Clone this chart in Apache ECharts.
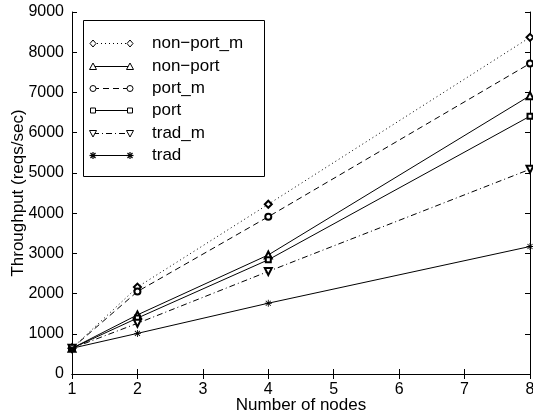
<!DOCTYPE html>
<html>
<head>
<meta charset="utf-8">
<script src="https://cdn.jsdelivr.net/npm/echarts@6/dist/echarts.min.js"></script>
<style>html,body{margin:0;padding:0;background:#fff;}#c{width:533px;height:419px;}</style>
</head>
<body>
<div id="c"></div>
<script>
// ---- data ----
const xNodes = [1, 2, 4, 8];
const seriesNames = ['non\u2212port_m', 'non\u2212port', 'port_m', 'port', 'trad_m', 'trad'];
const nonPortM = [640, 2160, 4220, 8370];
const nonPort  = [640, 1470, 2960, 6920];
const portM    = [640, 2050, 3910, 7720];
const port     = [640, 1390, 2840, 6410];
const tradM    = [640, 1260, 2550, 5090];
const trad     = [640, 1010, 1760, 3170];
const xTicks = [1, 2, 3, 4, 5, 6, 7, 8];
const yTicks = [0, 1000, 2000, 3000, 4000, 5000, 6000, 7000, 8000, 9000];

const FONT = 'Liberation Sans, Arial, Helvetica, sans-serif';
const ASTER = 'path://M4.4,0L5.6,0L5.6,10L4.4,10Z M0,4.4L10,4.4L10,5.6L0,5.6Z M1,1.8L1.8,1L9,8.2L8.2,9Z M8.2,1L9,1.8L1.8,9L1,8.2Z';

const styles = [
  { data: nonPortM, symbol: 'emptyDiamond', size: 7, rot: 0, dash: [1, 3] },
  { data: nonPort,  symbol: 'emptyTriangle', size: 7, rot: 0, dash: 'solid' },
  { data: portM,    symbol: 'emptyCircle', size: 6, rot: 0, dash: [6, 4] },
  { data: port,     symbol: 'emptyRect', size: 5, rot: 0, dash: 'solid' },
  { data: tradM,    symbol: 'emptyTriangle', size: 7, rot: 180, dash: [6, 3, 1, 3] },
  { data: trad,     symbol: ASTER, size: 7, rot: 0, dash: 'solid' }
];

const series = styles.map((s, i) => ({
  name: seriesNames[i],
  type: 'line',
  data: xNodes.map((x, j) => [x, s.data[j]]),
  symbol: s.symbol,
  symbolSize: s.size,
  symbolRotate: s.rot,
  showSymbol: true,
  animation: false,
  lineStyle: { color: '#000', width: 1, type: s.dash },
  itemStyle: { color: '#000', borderWidth: 1 },
  emphasis: { disabled: true },
  z: 3
}));

// ---- legend drawn with graphic ----
const LX0 = 83, LY0 = 20, LW = 181, LH = 156;
const itemY0 = 43.3, itemDY = 22.35, lineX1 = 93, lineX2 = 130, textX = 152;
const legendKinds = ['diamond', 'triangle', 'circle', 'rect', 'down', 'aster'];
function markers(kind, cx, cy) {
  const st = { fill: '#fff', stroke: '#000', lineWidth: 1 };
  if (kind === 'diamond') return [{ type: 'polygon', shape: { points: [[cx, cy - 3.5], [cx + 3, cy], [cx, cy + 3.5], [cx - 3, cy]] }, style: st }];
  if (kind === 'triangle') return [{ type: 'polygon', shape: { points: [[cx, cy - 3.5], [cx + 3.5, cy + 3], [cx - 3.5, cy + 3]] }, style: st }];
  if (kind === 'down') return [{ type: 'polygon', shape: { points: [[cx, cy + 3.5], [cx + 3.5, cy - 3], [cx - 3.5, cy - 3]] }, style: st }];
  if (kind === 'circle') return [{ type: 'circle', shape: { cx: cx, cy: cy, r: 3 }, style: st }];
  if (kind === 'rect') return [{ type: 'rect', shape: { x: cx - 2.5, y: cy - 2.5, width: 5, height: 5 }, style: st }];
  const ls = { stroke: '#000', lineWidth: 1.2 };
  return [
    { type: 'line', shape: { x1: cx - 3.5, y1: cy, x2: cx + 3.5, y2: cy }, style: ls },
    { type: 'line', shape: { x1: cx, y1: cy - 3.5, x2: cx, y2: cy + 3.5 }, style: ls },
    { type: 'line', shape: { x1: cx - 2.5, y1: cy - 2.5, x2: cx + 2.5, y2: cy + 2.5 }, style: ls },
    { type: 'line', shape: { x1: cx + 2.5, y1: cy - 2.5, x2: cx - 2.5, y2: cy + 2.5 }, style: ls }
  ];
}
const graphics = [{ type: 'rect', shape: { x: LX0 + 0.5, y: LY0 + 0.5, width: LW, height: LH }, style: { fill: '#fff', stroke: '#000', lineWidth: 1 }, z: 10 }];
seriesNames.forEach((nm, i) => {
  const y = Math.round(itemY0 + i * itemDY) + 0.5;
  const d = styles[i].dash;
  graphics.push({ type: 'line', z: 11, shape: { x1: lineX1, y1: y, x2: lineX2, y2: y }, style: { stroke: '#000', lineWidth: 1, lineDash: d === 'solid' ? null : d } });
  markers(legendKinds[i], lineX1, y).concat(markers(legendKinds[i], lineX2, y)).forEach(m => { m.z = 12; graphics.push(m); });
  graphics.push({ type: 'text', z: 12, x: textX, y: y, style: { text: nm, fill: '#000', font: '17px ' + FONT, verticalAlign: 'middle', textAlign: 'left' } });
});

const axisCommon = {
  type: 'value',
  axisLine: { show: true, lineStyle: { color: '#000', width: 1 } },
  axisTick: { show: true, inside: true, length: 5, lineStyle: { color: '#000' } },
  splitLine: { show: false }
};
const plain = v => String(v);

const option = {
  backgroundColor: '#fff',
  animation: false,
  grid: { left: 72, right: 3, top: 12, bottom: 45, containLabel: false, outerBoundsMode: 'none' },
  xAxis: [
    Object.assign({}, axisCommon, {
      min: xTicks[0], max: xTicks[xTicks.length - 1], interval: 1,
      name: 'Number of nodes', nameLocation: 'middle', nameGap: 23, nameMoveOverlap: false,
      nameTextStyle: { fontFamily: FONT, fontSize: 17, color: '#000' },
      axisLabel: { show: true, margin: 8, fontFamily: FONT, fontSize: 16, color: '#000', formatter: plain }
    }),
    Object.assign({}, axisCommon, {
      position: 'top', min: xTicks[0], max: xTicks[xTicks.length - 1], interval: 1,
      axisLabel: { show: false }
    })
  ],
  yAxis: [
    Object.assign({}, axisCommon, {
      min: yTicks[0], max: yTicks[yTicks.length - 1], interval: 1000,
      name: 'Throughput (reqs/sec)', nameLocation: 'middle', nameGap: 45, nameMoveOverlap: false,
      nameTextStyle: { fontFamily: FONT, fontSize: 17, color: '#000' },
      axisLabel: { show: true, margin: 8, fontFamily: FONT, fontSize: 16, color: '#000', formatter: plain }
    }),
    Object.assign({}, axisCommon, {
      position: 'right', min: yTicks[0], max: yTicks[yTicks.length - 1], interval: 1000,
      axisLabel: { show: false }
    })
  ],
  series: series,
  graphic: graphics
};

const chart = echarts.init(document.getElementById('c'), null, { renderer: 'canvas' });
chart.setOption(option);
</script>
</body>
</html>
